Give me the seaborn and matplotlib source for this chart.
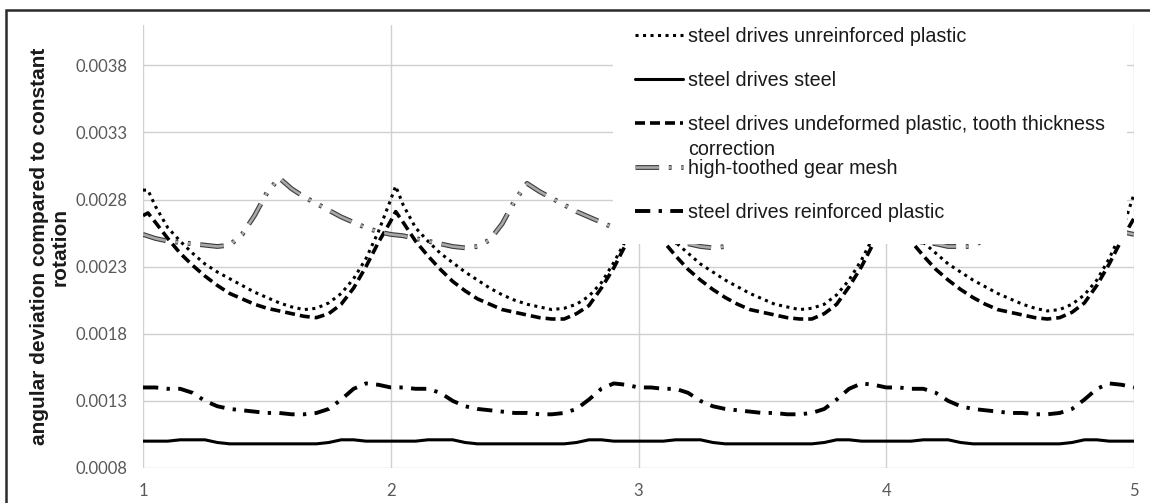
import matplotlib
matplotlib.use("Agg")
import matplotlib.pyplot as plt
import seaborn as sns
from matplotlib import patheffects as pe
from matplotlib.patches import Rectangle

# ---------------- data ----------------
labels = [
    "steel drives unreinforced plastic",
    "steel drives steel",
    "steel drives undeformed plastic, tooth thickness",
    "high-toothed gear mesh",
    "steel drives reinforced plastic",
]
label_continuation = "correction"
y_label = "angular deviation compared to constant\nrotation"

x_ticks = [1, 2, 3, 4, 5]
x_tick_labels = ["1", "2", "3", "4", "5"]
y_ticks = [0.0008, 0.0013, 0.0018, 0.0023, 0.0028, 0.0033, 0.0038]
y_tick_labels = ["0.0008", "0.0013", "0.0018", "0.0023", "0.0028", "0.0033", "0.0038"]

x_fine = [
    1.00, 1.02, 1.05, 1.10, 1.15, 1.20, 1.25, 1.30, 1.35, 1.40, 1.45, 1.50, 1.55, 1.60, 1.65, 1.70, 1.75, 1.80, 1.85, 1.90, 1.95,
    2.00, 2.02, 2.05, 2.10, 2.15, 2.20, 2.25, 2.30, 2.35, 2.40, 2.45, 2.50, 2.55, 2.60, 2.65, 2.70, 2.75, 2.80, 2.85, 2.90, 2.95,
    3.00, 3.02, 3.05, 3.10, 3.15, 3.20, 3.25, 3.30, 3.35, 3.40, 3.45, 3.50, 3.55, 3.60, 3.65, 3.70, 3.75, 3.80, 3.85, 3.90, 3.95,
    4.00, 4.02, 4.05, 4.10, 4.15, 4.20, 4.25, 4.30, 4.35, 4.40, 4.45, 4.50, 4.55, 4.60, 4.65, 4.70, 4.75, 4.80, 4.85, 4.90, 4.95,
    5.00,
]

unreinforced = [
    0.00287, 0.00287, 0.00275, 0.00259, 0.00249, 0.00240, 0.00232, 0.00226, 0.00221, 0.00216, 0.00211, 0.00207, 0.00203, 0.00200, 0.00198, 0.00199, 0.00203, 0.00210, 0.00221, 0.00236, 0.00256,
    0.00280, 0.00290, 0.00276, 0.00259, 0.00249, 0.00240, 0.00233, 0.00226, 0.00220, 0.00214, 0.00209, 0.00205, 0.00202, 0.00200, 0.00198, 0.00199, 0.00202, 0.00208, 0.00218, 0.00233, 0.00250,
    0.00278, 0.00289, 0.00275, 0.00258, 0.00248, 0.00240, 0.00232, 0.00226, 0.00220, 0.00215, 0.00210, 0.00206, 0.00202, 0.00200, 0.00198, 0.00199, 0.00202, 0.00209, 0.00220, 0.00235, 0.00253,
    0.00279, 0.00289, 0.00275, 0.00258, 0.00248, 0.00240, 0.00232, 0.00226, 0.00220, 0.00215, 0.00210, 0.00206, 0.00202, 0.00199, 0.00197, 0.00198, 0.00202, 0.00209, 0.00220, 0.00236, 0.00256,
    0.00284,
]

undeformed = [
    0.00268, 0.00270, 0.00263, 0.00251, 0.00240, 0.00231, 0.00223, 0.00216, 0.00210, 0.00206, 0.00202, 0.00199, 0.00197, 0.00195, 0.00193, 0.00192, 0.00195, 0.00202, 0.00214, 0.00230, 0.00248,
    0.00264, 0.00271, 0.00263, 0.00249, 0.00238, 0.00228, 0.00219, 0.00212, 0.00206, 0.00202, 0.00198, 0.00196, 0.00194, 0.00192, 0.00191, 0.00191, 0.00195, 0.00201, 0.00214, 0.00229, 0.00247,
    0.00263, 0.00270, 0.00262, 0.00249, 0.00238, 0.00228, 0.00220, 0.00213, 0.00207, 0.00202, 0.00198, 0.00196, 0.00194, 0.00192, 0.00191, 0.00191, 0.00195, 0.00202, 0.00215, 0.00230, 0.00248,
    0.00264, 0.00270, 0.00262, 0.00249, 0.00238, 0.00228, 0.00220, 0.00213, 0.00207, 0.00202, 0.00198, 0.00196, 0.00194, 0.00192, 0.00191, 0.00192, 0.00196, 0.00203, 0.00216, 0.00232, 0.00250,
    0.00266,
]

x_grid = [
    1.00, 1.05, 1.10, 1.15, 1.20, 1.25, 1.30, 1.35, 1.40, 1.45, 1.50, 1.55, 1.60, 1.65, 1.70, 1.75, 1.80, 1.85, 1.90, 1.95,
    2.00, 2.05, 2.10, 2.15, 2.20, 2.25, 2.30, 2.35, 2.40, 2.45, 2.50, 2.55, 2.60, 2.65, 2.70, 2.75, 2.80, 2.85, 2.90, 2.95,
    3.00, 3.05, 3.10, 3.15, 3.20, 3.25, 3.30, 3.35, 3.40, 3.45, 3.50, 3.55, 3.60, 3.65, 3.70, 3.75, 3.80, 3.85, 3.90, 3.95,
    4.00, 4.05, 4.10, 4.15, 4.20, 4.25, 4.30, 4.35, 4.40, 4.45, 4.50, 4.55, 4.60, 4.65, 4.70, 4.75, 4.80, 4.85, 4.90, 4.95,
    5.00,
]

steel = [
    0.00100, 0.00100, 0.00100, 0.00101, 0.00101, 0.00101, 0.00099, 0.00098, 0.00098, 0.00098, 0.00098, 0.00098, 0.00098, 0.00098, 0.00098, 0.00099, 0.00101, 0.00101, 0.00100, 0.00100,
    0.00100, 0.00100, 0.00100, 0.00101, 0.00101, 0.00101, 0.00099, 0.00098, 0.00098, 0.00098, 0.00098, 0.00098, 0.00098, 0.00098, 0.00098, 0.00099, 0.00101, 0.00101, 0.00100, 0.00100,
    0.00100, 0.00100, 0.00100, 0.00101, 0.00101, 0.00101, 0.00099, 0.00098, 0.00098, 0.00098, 0.00098, 0.00098, 0.00098, 0.00098, 0.00098, 0.00099, 0.00101, 0.00101, 0.00100, 0.00100,
    0.00100, 0.00100, 0.00100, 0.00101, 0.00101, 0.00101, 0.00099, 0.00098, 0.00098, 0.00098, 0.00098, 0.00098, 0.00098, 0.00098, 0.00098, 0.00099, 0.00101, 0.00101, 0.00100, 0.00100,
    0.00100,
]

gear_mesh = [
    0.00254, 0.00251, 0.00249, 0.00248, 0.00247, 0.00246, 0.00245, 0.00246, 0.00254, 0.00268, 0.00285, 0.00296, 0.00288, 0.00282, 0.00277, 0.00272, 0.00267, 0.00263, 0.00259, 0.00256,
    0.00254, 0.00253, 0.00251, 0.00249, 0.00247, 0.00245, 0.00244, 0.00245, 0.00250, 0.00262, 0.00279, 0.00292, 0.00286, 0.00281, 0.00276, 0.00271, 0.00267, 0.00263, 0.00259, 0.00256,
    0.00254, 0.00252, 0.00250, 0.00248, 0.00247, 0.00245, 0.00244, 0.00245, 0.00251, 0.00264, 0.00281, 0.00293, 0.00287, 0.00281, 0.00276, 0.00271, 0.00267, 0.00263, 0.00259, 0.00256,
    0.00254, 0.00252, 0.00250, 0.00248, 0.00247, 0.00245, 0.00245, 0.00245, 0.00251, 0.00264, 0.00281, 0.00293, 0.00287, 0.00281, 0.00276, 0.00271, 0.00267, 0.00263, 0.00259, 0.00256,
    0.00254,
]

reinforced = [
    0.00140, 0.00140, 0.00139, 0.00139, 0.00136, 0.00130, 0.00126, 0.00124, 0.00123, 0.00122, 0.00121, 0.00121, 0.00120, 0.00120, 0.00121, 0.00124, 0.00131, 0.00139, 0.00143, 0.00142,
    0.00140, 0.00140, 0.00139, 0.00139, 0.00136, 0.00130, 0.00126, 0.00124, 0.00123, 0.00122, 0.00121, 0.00121, 0.00120, 0.00120, 0.00121, 0.00124, 0.00131, 0.00139, 0.00143, 0.00142,
    0.00140, 0.00140, 0.00139, 0.00139, 0.00136, 0.00130, 0.00126, 0.00124, 0.00123, 0.00122, 0.00121, 0.00121, 0.00120, 0.00120, 0.00121, 0.00124, 0.00131, 0.00139, 0.00143, 0.00142,
    0.00140, 0.00140, 0.00139, 0.00139, 0.00136, 0.00130, 0.00126, 0.00124, 0.00123, 0.00122, 0.00121, 0.00121, 0.00120, 0.00120, 0.00121, 0.00124, 0.00131, 0.00139, 0.00143, 0.00142,
    0.00140,
]

# ---------------- style ----------------
sns.set_style("white")
plt.rcParams["font.family"] = ["Liberation Sans", "DejaVu Sans"]
plt.rcParams["lines.scale_dashes"] = False

W, H = 1150, 503
fig = plt.figure(figsize=(W / 100, H / 100), dpi=100)
ax = fig.add_axes([143 / W, (H - 468) / H, (1134 - 143) / W, (468 - 25) / H])

handles = []
sns.lineplot(x=x_fine, y=unreinforced, ax=ax, color="black", linewidth=2.2,
             linestyle=(0, (2.2, 3.2)), sort=False, estimator=None)
handles.append(ax.lines[-1])
sns.lineplot(x=x_grid, y=steel, ax=ax, color="black", linewidth=2.2,
             linestyle="-", sort=False, estimator=None)
handles.append(ax.lines[-1])
sns.lineplot(x=x_fine, y=undeformed, ax=ax, color="black", linewidth=2.6,
             linestyle=(0, (7.2, 3.6)), sort=False, estimator=None)
handles.append(ax.lines[-1])
sns.lineplot(x=x_grid, y=gear_mesh, ax=ax, color="#a9a9a9", linewidth=1.9,
             linestyle=(0, (17, 7, 2.0, 7, 2.0, 7)), sort=False, estimator=None,
             path_effects=[pe.Stroke(linewidth=3.5, foreground="#3c3c3c"), pe.Normal()])
handles.append(ax.lines[-1])
sns.lineplot(x=x_grid, y=reinforced, ax=ax, color="black", linewidth=2.8,
             linestyle=(0, (11, 6, 2.4, 6)), sort=False, estimator=None)
handles.append(ax.lines[-1])

ax.set_xlim(1, 5)
ax.set_ylim(0.0008, 0.0041)
ax.set_xticks(x_ticks)
ax.set_xticklabels(x_tick_labels, fontfamily="Lato", fontsize=12, color="#595959")
ax.set_yticks(y_ticks)
ax.set_yticklabels(y_tick_labels, fontfamily="Lato", fontsize=12, color="#595959")
ax.tick_params(axis="both", length=4.5, width=1, color="#d0d0d0")
ax.tick_params(axis="y", pad=7)
ax.tick_params(axis="x", pad=6)
ax.grid(True, color="#d0d0d0", linewidth=1.0)
ax.set_axisbelow(True)
for s in ax.spines.values():
    s.set_visible(False)
ax.set_xlabel("")
ax.set_ylabel(y_label, fontsize=15, fontweight="bold", color="#1a1a1a",
              linespacing=1.15, family="Liberation Sans")
ax.yaxis.set_label_coords((70 - 143) / (1134 - 143), 0.5)

LEG_FS = 14.2
px = LEG_FS * 100 / 72.0
leg = ax.legend(handles=handles, labels=labels, loc="upper left",
                bbox_to_anchor=(613 / W, 1 - 5 / H), bbox_transform=fig.transFigure,
                borderaxespad=0, borderpad=22 / px, labelspacing=1.27,
                handlelength=48 / px, handletextpad=5 / px, frameon=True, fancybox=False,
                facecolor="white", edgecolor="none", framealpha=1,
                prop={"family": "Liberation Sans", "size": LEG_FS})
for t in leg.get_texts():
    t.set_color("#1a1a1a")

# frame around the whole picture
fig.add_artist(Rectangle((6 / W, -0.2), 1.5, 1.2 - 9.5 / H, transform=fig.transFigure,
                         fill=False, edgecolor="#2b2b2b", linewidth=1.8, zorder=10,
                         clip_on=False))

fig.canvas.draw()
renderer = fig.canvas.get_renderer()
bb = leg.get_texts()[2].get_window_extent(renderer)
fig.text(bb.x0 / W, (bb.y0 - 25) / H, label_continuation, ha="left", va="bottom",
         fontsize=LEG_FS, family="Liberation Sans", color="#1a1a1a", zorder=8)

fig.savefig("out.png", dpi=100)
